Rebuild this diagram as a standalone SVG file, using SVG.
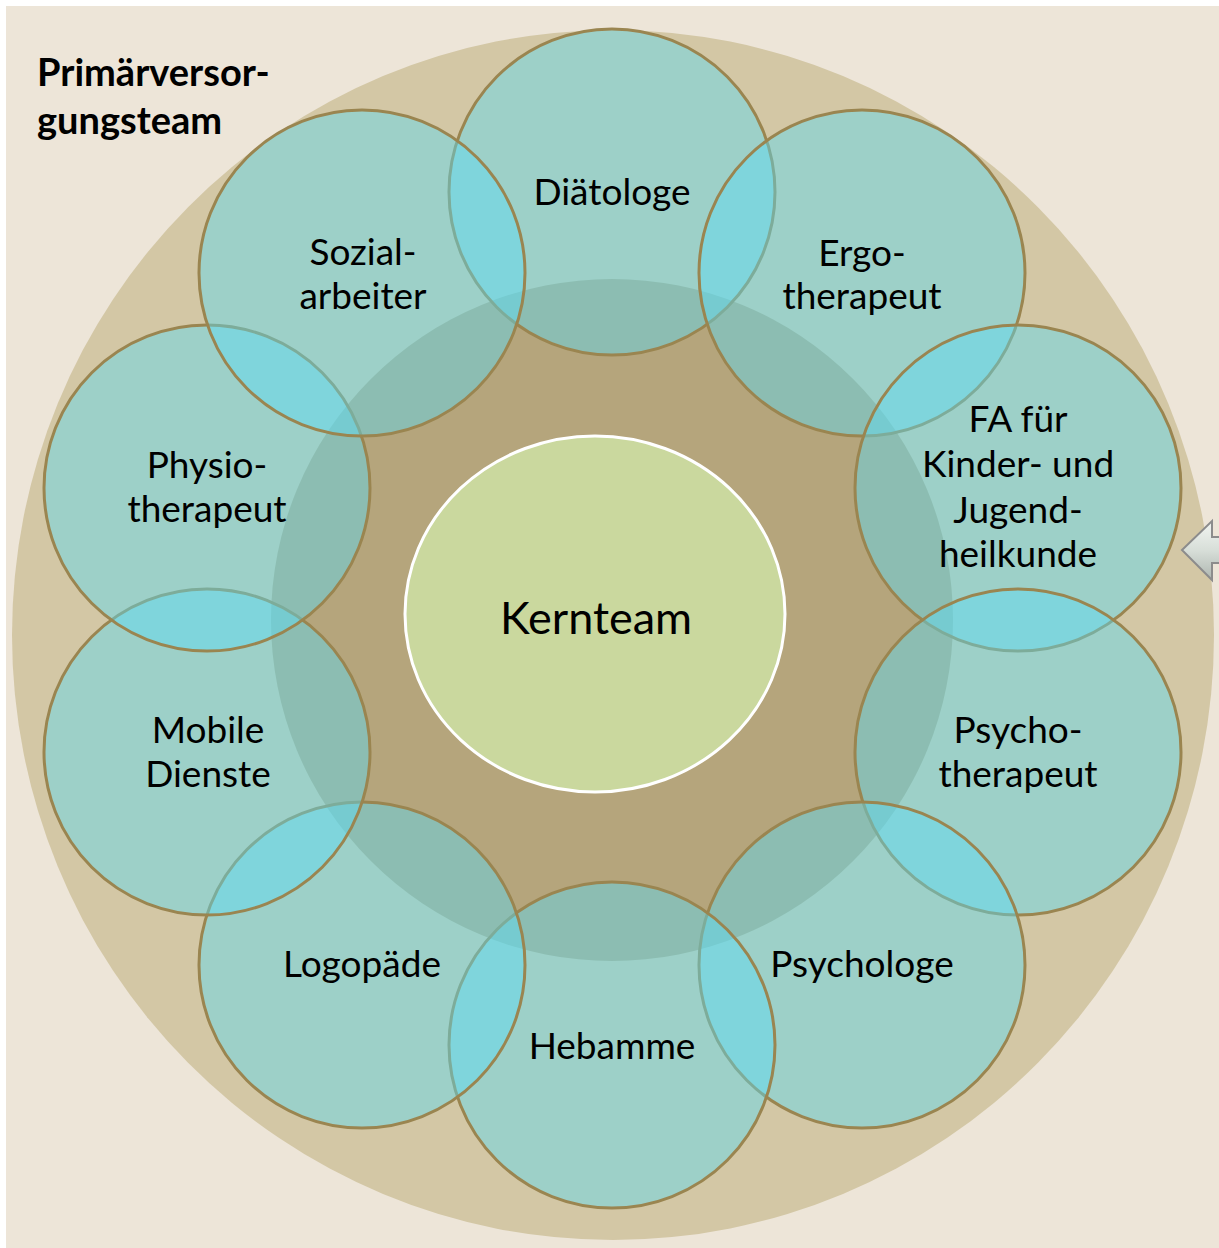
<svg xmlns="http://www.w3.org/2000/svg" width="1219" height="1248" viewBox="0 0 1219 1248">
<style>
.sat{fill:rgb(91,220,244);fill-opacity:0.45;stroke:#9A8550;stroke-width:3}
.lbl{font-family:Lato,"Open Sans","Liberation Sans",sans-serif;font-size:37px;fill:#000;text-anchor:middle}
.title{font-family:Lato,"Open Sans","Liberation Sans",sans-serif;font-size:38px;font-weight:bold;fill:#000}
</style>
<defs>
<linearGradient id="arrowGrad" x1="0" y1="0" x2="0" y2="1">
<stop offset="0" stop-color="#F2F5F2"/>
<stop offset="0.5" stop-color="#D7DED8"/>
<stop offset="1" stop-color="#AEB6B0"/>
</linearGradient>
</defs>
<rect x="0" y="0" width="1219" height="1248" fill="#FFFFFF"/>
<rect x="6" y="6" width="1213" height="1242" fill="#EDE5D8"/>
<ellipse id="outer" cx="613" cy="635" rx="601" ry="605" fill="#D3C7A5"/>
<circle id="inner" cx="612" cy="620" r="341" fill="#B5A57C"/>
<g id="title"><text class="title" x="37" y="86">Primärversor-</text><text class="title" x="37" y="134">gungsteam</text></g>
<g id="connectors"/>
<g id="node-diaetologe"><circle class="sat" cx="612" cy="192" r="163"/></g>
<g id="node-ergotherapeut"><circle class="sat" cx="862" cy="273" r="163"/></g>
<g id="node-fa"><circle class="sat" cx="1018" cy="488" r="163"/></g>
<g id="node-psychotherapeut"><circle class="sat" cx="1018" cy="752" r="163"/></g>
<g id="node-psychologe"><circle class="sat" cx="862" cy="965" r="163"/></g>
<g id="node-hebamme"><circle class="sat" cx="612" cy="1045" r="163"/></g>
<g id="node-logopaede"><circle class="sat" cx="362" cy="965" r="163"/></g>
<g id="node-mobile"><circle class="sat" cx="207" cy="752" r="163"/></g>
<g id="node-physio"><circle class="sat" cx="207" cy="488" r="163"/></g>
<g id="node-sozial"><circle class="sat" cx="362" cy="273" r="163"/></g>
<g id="labels">
<text class="lbl" x="612" y="205">Diätologe</text>
<text class="lbl" x="862" y="266">Ergo-</text><text class="lbl" x="862" y="309">therapeut</text>
<text class="lbl" x="1018" y="432">FA für</text><text class="lbl" x="1018" y="477">Kinder- und</text><text class="lbl" x="1018" y="523">Jugend-</text><text class="lbl" x="1018" y="567">heilkunde</text>
<text class="lbl" x="1018" y="743">Psycho-</text><text class="lbl" x="1018" y="787">therapeut</text>
<text class="lbl" x="862" y="977">Psychologe</text>
<text class="lbl" x="612" y="1059">Hebamme</text>
<text class="lbl" x="362" y="977">Logopäde</text>
<text class="lbl" x="208" y="743">Mobile</text><text class="lbl" x="208" y="787">Dienste</text>
<text class="lbl" x="207" y="478">Physio-</text><text class="lbl" x="207" y="522">therapeut</text>
<text class="lbl" x="363" y="265">Sozial-</text><text class="lbl" x="363" y="309">arbeiter</text>
</g>
<g id="node-kernteam">
<ellipse cx="595" cy="614" rx="190" ry="178" fill="#CAD89E" stroke="#FFFFFF" stroke-width="3"/>
<text class="lbl" x="596" y="634" style="font-size:45px">Kernteam</text>
</g>
<g id="arrow">
<polygon points="1182,550 1212,521 1212,537 1225,537 1225,563 1212,563 1212,580" fill="url(#arrowGrad)" stroke="#8C8C8C" stroke-width="2" stroke-linejoin="miter"/>
</g>
</svg>
